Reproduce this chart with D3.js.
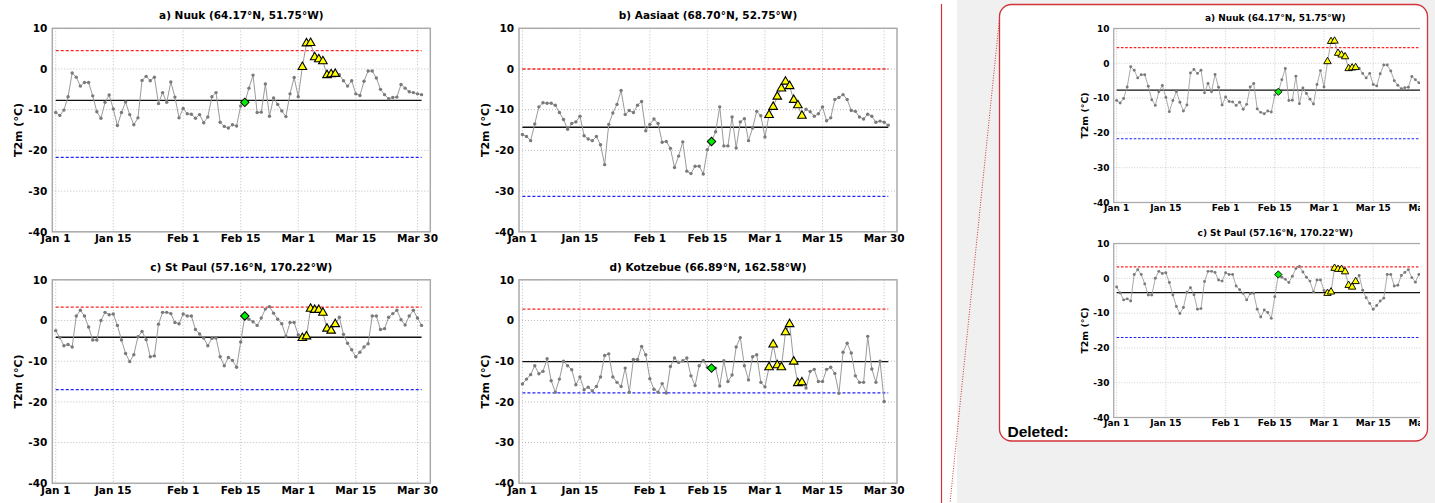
<!DOCTYPE html>
<html>
<head>
<meta charset="utf-8">
<script src="https://cdn.jsdelivr.net/npm/d3@7"></script>
<style>
  html, body { margin: 0; padding: 0; background: #ffffff; }
  svg { display: block; font-family: "DejaVu Sans", sans-serif; }
</style>
</head>
<body>
<svg id="fig" width="1435" height="503"></svg>
<script>
// ---- Daily 2 m temperature (°C), 1 Jan – 31 Mar ----
const nuukT2m = [
  -10.7,-11.4,-10.1,-6.8,-1.0,-2.0,-4.2,-3.3,-3.3,-6.6,
  -10.5,-12.1,-8.2,-6.4,-9.8,-13.9,-10.7,-8.1,-11.2,-13.7,
  -12.0,-2.8,-1.8,-2.9,-2.0,-8.5,-5.8,-8.2,-3.2,-6.9,
  -12.0,-9.7,-11.0,-11.1,-12.1,-11.2,-13.2,-11.8,-6.8,-5.8,
  -13.1,-14.1,-14.5,-13.7,-14.0,-9.1,-8.2,-4.7,-1.5,-10.7,
  -10.6,-3.7,-11.6,-7.1,-8.7,-10.3,-11.7,-6.1,-2.1,-6.8,
  0.5,6.3,6.4,2.9,2.4,1.9,-1.5,-1.3,-1.2,-1.4,
  -2.9,-4.2,-2.9,-6.1,-6.5,-3.0,-0.5,-0.5,-2.2,-5.0,
  -6.3,-7.3,-7.0,-6.9,-3.8,-4.7,-5.6,-5.8,-6.1,-6.3
];
const aasiaatT2m = [
  -16.1,-16.6,-17.6,-13.5,-9.3,-8.3,-8.4,-8.4,-8.9,-10.7,
  -12.4,-14.8,-13.4,-13.0,-11.6,-16.4,-17.2,-17.6,-16.6,-18.6,
  -23.5,-13.6,-10.8,-8.7,-5.3,-11.2,-10.2,-10.7,-8.9,-8.0,
  -15.2,-13.6,-12.3,-13.4,-18.0,-17.8,-19.5,-24.2,-21.4,-17.9,
  -25.1,-25.7,-23.9,-23.9,-25.8,-19.8,-17.8,-15.4,-9.3,-18.9,
  -18.9,-11.8,-19.4,-13.0,-12.2,-17.6,-14.5,-10.4,-11.5,-16.7,
  -11.3,-9.3,-6.8,-4.8,-3.1,-4.2,-7.6,-8.9,-11.5,-9.9,
  -10.5,-11.6,-11.0,-9.3,-12.7,-12.0,-7.5,-7.0,-6.3,-7.5,
  -10.2,-10.4,-11.8,-12.3,-11.1,-11.6,-13.1,-12.8,-13.1,-13.8
];
const stPaulT2m = [
  -2.5,-4.2,-6.2,-5.9,-6.5,1.1,2.5,1.1,-1.6,-4.8,
  -4.8,0.0,2.0,1.4,1.6,-1.2,-4.8,-8.1,-10.1,-8.4,
  -4.0,-2.7,-4.7,-8.9,-8.7,-0.9,2.0,2.0,1.7,-0.5,
  -0.8,1.6,1.1,1.1,-2.2,-3.3,-4.3,-6.2,-4.4,-4.3,
  -8.9,-11.1,-9.1,-9.8,-11.5,-5.3,1.1,0.3,-0.3,-1.2,
  0.6,2.8,3.4,1.8,0.3,-0.8,-3.9,-0.5,-0.5,-3.5,
  -4.3,-3.9,2.9,2.6,2.6,1.9,-2.0,-2.5,-0.9,0.8,
  -3.4,-5.6,-7.2,-8.9,-7.8,-6.5,-5.7,1.1,1.1,-2.2,
  -2.0,0.8,1.7,2.5,0.2,-1.1,1.1,2.5,0.6,-1.2
];
const kotzebueT2m = [
  -15.6,-14.4,-13.3,-11.1,-13.1,-12.5,-9.4,-14.8,-17.6,-14.4,
  -10.0,-11.1,-12.1,-15.8,-13.9,-17.0,-16.4,-17.3,-16.2,-13.9,
  -8.6,-8.2,-13.9,-15.2,-16.2,-11.7,-17.6,-9.6,-9.6,-6.4,
  -8.4,-14.3,-16.9,-17.6,-15.5,-17.8,-11.3,-9.2,-10.3,-9.9,
  -9.2,-13.6,-16.0,-11.1,-9.8,-11.5,-11.7,-11.7,-16.1,-9.9,
  -15.0,-13.4,-6.5,-4.2,-11.1,-14.6,-8.9,-8.4,-15.2,-16.3,
  -11.5,-5.9,-11.0,-11.5,-2.9,-0.9,-10.1,-15.4,-15.2,-16.6,
  -12.5,-12.0,-15.0,-15.0,-12.0,-11.5,-13.0,-17.9,-7.8,-5.6,
  -8.0,-13.6,-15.2,-15.2,-3.9,-11.9,-15.2,-10.0,-19.9
];

const stationTitles = [
  "a) Nuuk (64.17°N, 51.75°W)",
  "b) Aasiaat (68.70°N, 52.75°W)",
  "c) St Paul (57.16°N, 170.22°W)",
  "d) Kotzebue (66.89°N, 162.58°W)"
];
const stationSeries = [nuukT2m, aasiaatT2m, stPaulT2m, kotzebueT2m];
const upperThreshold = [4.5, 0.0, 3.3, 2.8];
const lowerThreshold = [-21.7, -31.3, -17.0, -17.8];
const meanT2m = [-7.7, -14.3, -4.1, -10.1];

const seriesStart = new Date(2019, 0, 1);
const seriesEnd = new Date(2019, 2, 31);
const markerDate = new Date(2019, 1, 16);
const eventStart = new Date(2019, 2, 2);
const eventEnd = new Date(2019, 2, 10);

const xTickDates = [
  new Date(2019, 0, 1), new Date(2019, 0, 15), new Date(2019, 1, 1),
  new Date(2019, 1, 15), new Date(2019, 2, 1), new Date(2019, 2, 15),
  new Date(2019, 2, 30)
];
const yTickValues = [10, 0, -10, -20, -30, -40];
const yLabel = "T2m (°C)";

// ---- layout ----
const PW = 378, PH = 203.5;
const panelOrigins = [[52.3, 28.3], [519, 28.3], [52.3, 279.8], [519, 279.8]];

const svg = d3.select("#fig");

// markup pane on the right
svg.append("rect").attr("x", 957).attr("y", 0).attr("width", 478).attr("height", 503)
  .attr("fill", "#f0f0f0");
svg.append("line").attr("x1", 941.5).attr("x2", 941.5).attr("y1", 4).attr("y2", 503)
  .attr("stroke", "#d13438").attr("stroke-width", 1.2);

function drawPanel(g, idx) {
  const values = stationSeries[idx];
  const pts = values.map((v, i) => ({ date: d3.timeDay.offset(seriesStart, i), value: v }));

  const x = d3.scaleTime()
    .domain([new Date(2018, 11, 31, 4), new Date(2019, 3, 2, 3)])
    .range([0, PW]);
  const y = d3.scaleLinear().domain([-40, 10]).range([PH, 0]);

  // grid
  const grid = g.append("g");
  grid.selectAll("line.gy").data(yTickValues).join("line")
    .attr("x1", 0).attr("x2", PW)
    .attr("y1", d => y(d)).attr("y2", d => y(d))
    .attr("stroke", "#bdbdbd").attr("stroke-width", 1).attr("stroke-dasharray", "1,2");
  grid.selectAll("line.gx").data(xTickDates).join("line")
    .attr("x1", d => x(d)).attr("x2", d => x(d))
    .attr("y1", 0).attr("y2", PH)
    .attr("stroke", "#bdbdbd").attr("stroke-width", 1).attr("stroke-dasharray", "1,2");

  // reference levels
  const ref = [
    { v: upperThreshold[idx], c: "#ff2020", dash: "3,2", w: 1.3 },
    { v: lowerThreshold[idx], c: "#2020ff", dash: "3,2", w: 1.3 },
    { v: meanT2m[idx], c: "#111111", dash: null, w: 1.4 }
  ];
  g.selectAll("line.ref").data(ref).join("line")
    .attr("x1", x(seriesStart)).attr("x2", x(seriesEnd))
    .attr("y1", d => y(d.v)).attr("y2", d => y(d.v))
    .attr("stroke", d => d.c).attr("stroke-width", d => d.w)
    .attr("stroke-dasharray", d => d.dash);

  // series
  const line = d3.line().x(d => x(d.date)).y(d => y(d.value));
  g.append("path").datum(pts).attr("d", line)
    .attr("fill", "none").attr("stroke", "#9a9a9a").attr("stroke-width", 1);
  g.selectAll("circle.pt").data(pts).join("circle")
    .attr("cx", d => x(d.date)).attr("cy", d => y(d.value)).attr("r", 1.7)
    .attr("fill", "#7a7a7a");

  // event days
  const ev = pts.filter(d => d.date >= eventStart && d.date <= eventEnd);
  g.selectAll("path.tri").data(ev).join("path")
    .attr("d", d3.symbol().type(d3.symbolTriangle).size(32))
    .attr("transform", d => `translate(${x(d.date)},${y(d.value)})`)
    .attr("fill", "#ffff00").attr("stroke", "#000").attr("stroke-width", 1.1);

  const mk = pts.filter(d => +d.date === +markerDate);
  g.selectAll("path.dia").data(mk).join("path")
    .attr("d", d3.symbol().type(d3.symbolSquare).size(36))
    .attr("transform", d => `translate(${x(d.date)},${y(d.value)}) rotate(45)`)
    .attr("fill", "#00ee00").attr("stroke", "#000").attr("stroke-width", 1);

  // frame
  g.append("rect").attr("x", 0).attr("y", 0).attr("width", PW).attr("height", PH)
    .attr("fill", "none").attr("stroke", "#ababab").attr("stroke-width", 1.5);

  // tick labels
  g.selectAll("text.yt").data(yTickValues).join("text")
    .attr("x", -5).attr("y", d => y(d)).attr("dy", "0.36em")
    .attr("text-anchor", "end").attr("font-size", 10.5).attr("font-weight", "bold")
    .text(d => d);
  const fmt = d3.timeFormat("%b %-d");
  g.selectAll("text.xt").data(xTickDates).join("text")
    .attr("x", d => x(d)).attr("y", PH + 10.5)
    .attr("text-anchor", "middle").attr("font-size", 10.5).attr("font-weight", "bold")
    .text(d => fmt(d));

  // titles
  g.append("text").attr("x", PW / 2).attr("y", -9)
    .attr("text-anchor", "middle").attr("font-size", 10.5).attr("font-weight", "bold")
    .text(stationTitles[idx]);
  g.append("text").attr("transform", `translate(-30,${PH / 2}) rotate(-90)`)
    .attr("text-anchor", "middle").attr("font-size", 11).attr("font-weight", "bold")
    .text(yLabel);
}

// main figure
panelOrigins.forEach((o, i) => {
  drawPanel(svg.append("g").attr("transform", `translate(${o[0]},${o[1]})`), i);
});

// comment balloon with the removed copy of panels a and c
svg.append("defs").append("clipPath").attr("id", "balloonClip")
  .append("rect").attr("x", 1001).attr("y", 6).attr("width", 419).attr("height", 433);

svg.append("line").attr("x1", 999.5).attr("y1", 18).attr("x2", 950).attr("y2", 503)
  .attr("stroke", "#d13438").attr("stroke-width", 1).attr("stroke-dasharray", "1,1.5");

svg.append("rect").attr("x", 999.5).attr("y", 4.5).attr("width", 428).attr("height", 436.5)
  .attr("rx", 12).attr("ry", 12)
  .attr("fill", "#ffffff").attr("stroke", "#d13438").attr("stroke-width", 1.3);

const mini = svg.append("g").attr("clip-path", "url(#balloonClip)")
  .append("g").attr("transform", "translate(1069,4.3) scale(0.855)");
[0, 2].forEach(i => {
  const o = panelOrigins[i];
  drawPanel(mini.append("g").attr("transform", `translate(${o[0]},${o[1]})`), i);
});

svg.append("text").attr("x", 1007.5).attr("y", 436.5)
  .attr("font-family", "'Liberation Sans', Arial, sans-serif")
  .attr("font-size", 15.5).attr("font-weight", "bold").attr("fill", "#000")
  .text("Deleted:");
</script>
</body>
</html>
